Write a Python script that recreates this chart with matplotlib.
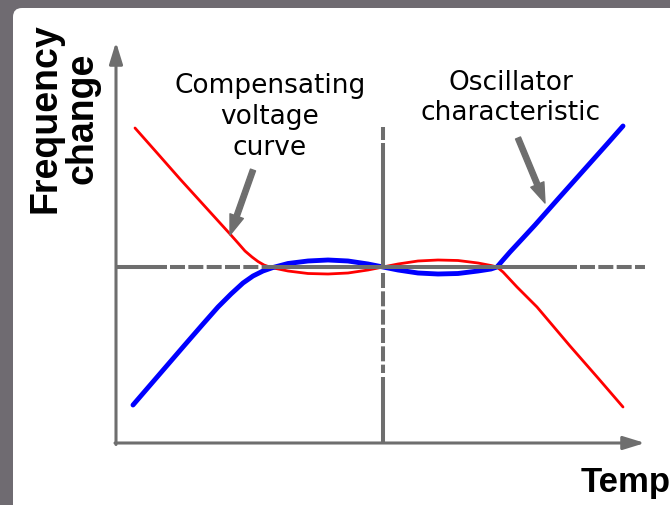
import matplotlib
matplotlib.use("Agg")
import matplotlib.pyplot as plt
from matplotlib.patches import FancyBboxPatch
from matplotlib.transforms import IdentityTransform

plt.rcParams['lines.scale_dashes'] = False

# ---- data (temperature offset vs frequency change, arbitrary units) ----
osc_x = [-250, -225, -200, -180, -165, -152, -140, -130, -120, -110, -95, -75, -55, -35, -15, 0,
         15, 35, 55, 75, 95, 108, 114, 120, 127, 140, 152, 175, 200, 225, 240]
osc_y = [-138, -109, -80, -57, -40, -27, -16, -9, -4, -0.5, 3.5, 6, 7, 6, 3, 0,
         -3, -6, -7, -6.5, -4, -2, 0, 7, 15, 29, 42, 68, 96, 124, 141]

comp_x = [-248, -225, -203, -173, -153, -145, -138, -131, -125, -119, -112, -95, -75, -55, -35, -15, 0,
          15, 35, 55, 75, 95, 108, 114, 120, 134, 154, 187, 215, 240]
comp_y = [139, 113, 88, 55, 33, 24, 16, 10, 5.5, 2, -0.5, -4, -6.5, -7, -6, -3, 0,
          3, 6, 7, 6.5, 4, 1.5, 0, -5, -20, -40, -79, -111, -140]

label_comp = "Compensating\nvoltage\ncurve"
label_osc = "Oscillator\ncharacteristic"
ylabel = "Frequency\nchange"
xlabel = "Temp"

BG = '#6f6b71'
GRAY = '#6e6e6e'
W, H = 670, 505

fig = plt.figure(figsize=(6.7, 5.05), dpi=100, facecolor=BG)

# white rounded panel
panel = FancyBboxPatch((13, -30), 720, 505 - 8 + 30, boxstyle='round,pad=0,rounding_size=9',
                       facecolor='white', edgecolor='none', transform=IdentityTransform(),
                       zorder=-10)
fig.add_artist(panel)

ax = fig.add_axes([116 / W, 62 / H, 529 / W, 401 / H])
ax.set_zorder(1)
ax.set_xlim(-267, 262)
ax.set_ylim(-176, 225)
ax.axis('off')
ax.patch.set_alpha(0)

# curves
ax.plot(comp_x, comp_y, color='#ff0000', lw=2.0, zorder=3, solid_capstyle='round',
        solid_joinstyle='round')
ax.plot(osc_x, osc_y, color='#0000ff', lw=3.5, zorder=3, solid_capstyle='round',
        solid_joinstyle='round')

# reference lines (solid + dashed parts)
lw_ref = 2.9
dash = (10.8, 2.4)
for xs in ([-267, -216], [-121, 194]):
    ax.plot(xs, [0, 0], color=GRAY, lw=lw_ref, zorder=4, solid_capstyle='butt')
for xs in ([-213, -121], [197, 262]):
    ax.plot(xs, [0, 0], color=GRAY, lw=lw_ref, zorder=4, dashes=dash, dash_capstyle='butt', clip_on=False)
for ys in ([124, 0], [-110, -176]):
    ax.plot([0, 0], ys, color=GRAY, lw=lw_ref, zorder=4, solid_capstyle='butt')
for ys in ([140, 127], [-6, -106]):
    ax.plot([0, 0], ys, color=GRAY, lw=lw_ref, zorder=4, dashes=dash, dash_capstyle='butt')

# axes with arrow heads
arrow_axis = dict(arrowstyle='-|>,head_length=1.3,head_width=0.4', color=GRAY, lw=2.2,
                  shrinkA=0, shrinkB=0, mutation_scale=10)
ax.annotate('', xy=(-267, 225), xytext=(-267, -177.5), arrowprops=arrow_axis, annotation_clip=False)
ax.annotate('', xy=(262, -176), xytext=(-268, -176), arrowprops=arrow_axis, annotation_clip=False)

# annotation arrows
arrow_note = dict(arrowstyle='simple,head_length=1.2,head_width=0.85,tail_width=0.32',
                  color=GRAY, shrinkA=0, shrinkB=0, mutation_scale=12)
ax.annotate('', xy=(-153, 32), xytext=(-130, 97), arrowprops=arrow_note, annotation_clip=False)
ax.annotate('', xy=(162, 64), xytext=(135, 129), arrowprops=arrow_note, annotation_clip=False)

# annotation texts
ax.text(-113, 150, label_comp, ha='center', va='center', fontsize=19, family='DejaVu Sans',
        linespacing=1.25, color='black')
ax.text(128, 169, label_osc, ha='center', va='center', fontsize=19, family='DejaVu Sans',
        linespacing=1.2, color='black')

# axis labels
fig.text(64 / W, 1 - 118 / H, ylabel, rotation=90, ha='center', va='center', fontsize=27,
         fontweight='bold', family='Liberation Sans', linespacing=1.0, multialignment='center')
fig.text(581 / W, 1 - 492 / H, xlabel, ha='left', va='baseline', fontsize=25,
         fontweight='bold', family='Liberation Sans')

fig.savefig('out.png', dpi=100, facecolor=BG)
